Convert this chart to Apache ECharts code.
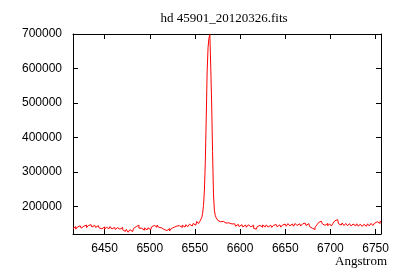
<!DOCTYPE html>
<html>
<head>
<meta charset="utf-8">
<script src="https://cdn.jsdelivr.net/npm/echarts@6/dist/echarts.min.js"></script>
<style>html,body{margin:0;padding:0;background:#fff}#c{width:400px;height:280px}</style>
</head>
<body>
<div id="c"></div>
<script>
var titleText = "hd 45901_20120326.fits";
var xAxisName = "Angstrom";
var xTicks = [6450, 6500, 6550, 6600, 6650, 6700, 6750];
var yTicks = [200000, 300000, 400000, 500000, 600000, 700000];

var wavelength = [
6415,6417,6419,6421,6423,6425,6427,6429,6431,6433,6435,6437,6439,6441,6443,6445,
6447,6449,6451,6453,6455,6457,6459,6461,6463,6465,6467,6469,6471,6473,6475,6477,6479,6481,
6483,6485,6487,6489,6491,6493,6495,6497,6499,6501,6503,6505,6507,6509,6511,
6513,6515,6517,6519,6521,6523,6525,6527,6529,6531,6533,6535,6537,6539,6541,6543,6545,6547,
6549,6551,6553,6555,
6556,6557,6558,6559,6560,6561,6562,6563,6564,6565,6566,6567,6568,6569,6570,6571,6572,6573,
6574,6575,6576,6577,6578,6579,6580,6581,6582,6583,6584,6585,6586,6587,6588,6589,6590,
6592,6594,6596,6598,6600,6602,6604,6606,6608,6610,6612,6614,6616,6618,6620,6622,6624,6626,
6628,6630,6632,6634,6636,6638,6640,6642,6644,6646,6648,6650,6652,6654,6656,6658,6660,6662,
6664,6666,6668,6670,6672,6674,6676,6678,6680,6682,6684,6686,6688,6690,6692,6694,6696,6698,
6700,6702,6704,6706,6708,6710,6712,6714,6716,6718,6720,6722,6724,6726,6728,6730,6732,6734,
6736,6738,6740,6742,6744,6746,6748,6750,6752,6754,6756
];
var flux = [
137000,142500,135000,141500,144500,138000,143500,147000,139500,145500,148000,141000,146500,140000,145000,138500,
136000,141500,134500,140500,136500,142500,135500,140000,133500,139500,135000,140000,133000,128500,134500,126000,133500,128000,
137000,142500,146500,138000,137500,132000,138500,133000,139000,133500,141500,146000,140500,147000,140000,
139000,134000,138500,131000,136500,130000,137000,140500,144000,138500,145000,140000,146500,141000,148000,142000,149500,144000,
151500,146500,157500,151000,
158000,163000,168000,181000,204000,248000,330000,455000,590000,660000,688000,698000,605000,500000,360000,240000,190000,175000,
168000,163500,160000,161000,156500,159500,155000,157500,153000,156000,152500,155000,150500,153500,151000,154000,150000,
145000,150500,143500,149000,142500,148000,141500,147000,140500,147500,142000,146500,137500,135000,142500,146000,140500,147000,
141500,147500,141000,146500,140000,146000,148500,142000,147500,141000,147000,149500,143500,151000,144500,150000,143500,151500,
145500,150500,144000,150000,152500,145500,151000,142500,137500,134000,140000,147500,154500,158000,150500,146000,151500,144500,
150500,144000,152500,159500,162500,150500,147000,153000,145500,151500,145000,151000,144000,150000,144500,150500,143500,149500,
143000,149000,143500,150500,144500,151500,145500,152500,156500,151500,157500
];

var seriesData = wavelength.map(function (w, i) { return [w, flux[i]]; });
function plainNum(v) { return String(v); }

var chart = echarts.init(document.getElementById('c'), null, {renderer: 'canvas'});
var axisLineStyle = {show: true, lineStyle: {color: '#000', width: 1}};
var tickStyle = {show: true, inside: true, length: 5, lineStyle: {color: '#000', width: 1}};
chart.setOption({
  animation: false,
  backgroundColor: '#fff',
  grid: {left: 73, right: 19, top: 34, bottom: 46, containLabel: false},
  xAxis: [{
    type: 'value', min: 6415, max: 6756, position: 'bottom',
    axisLine: axisLineStyle,
    axisTick: Object.assign({customValues: xTicks}, tickStyle),
    axisLabel: {customValues: xTicks, formatter: plainNum, color: '#000', fontFamily: 'Liberation Sans', fontSize: 12, margin: 9},
    splitLine: {show: false}
  }, {
    type: 'value', min: 6415, max: 6756, position: 'top',
    axisLine: axisLineStyle,
    axisTick: Object.assign({customValues: xTicks}, tickStyle),
    axisLabel: {show: false},
    splitLine: {show: false}
  }],
  yAxis: [{
    type: 'value', min: 121000, max: 700000, position: 'left',
    axisLine: axisLineStyle,
    axisTick: Object.assign({customValues: yTicks}, tickStyle),
    axisLabel: {customValues: yTicks, formatter: plainNum, color: '#000', fontFamily: 'Liberation Sans', fontSize: 12, margin: 11},
    splitLine: {show: false}
  }, {
    type: 'value', min: 121000, max: 700000, position: 'right',
    axisLine: axisLineStyle,
    axisTick: Object.assign({customValues: yTicks}, tickStyle),
    axisLabel: {show: false},
    splitLine: {show: false}
  }],
  graphic: [{
    type: 'text', x: 224, y: 19,
    style: {text: titleText, fill: '#000', font: '13px "Liberation Serif"', textAlign: 'center', textVerticalAlign: 'middle'}
  }, {
    type: 'text', x: 387, y: 262,
    style: {text: xAxisName, fill: '#000', font: '13px "Liberation Serif"', textAlign: 'right', textVerticalAlign: 'middle'}
  }],
  series: [{
    type: 'line', data: seriesData, xAxisIndex: 0, yAxisIndex: 0,
    step: 'middle', showSymbol: false, symbol: 'none', clip: true,
    lineStyle: {color: '#ff0000', width: 1}
  }]
});
</script>
</body>
</html>
